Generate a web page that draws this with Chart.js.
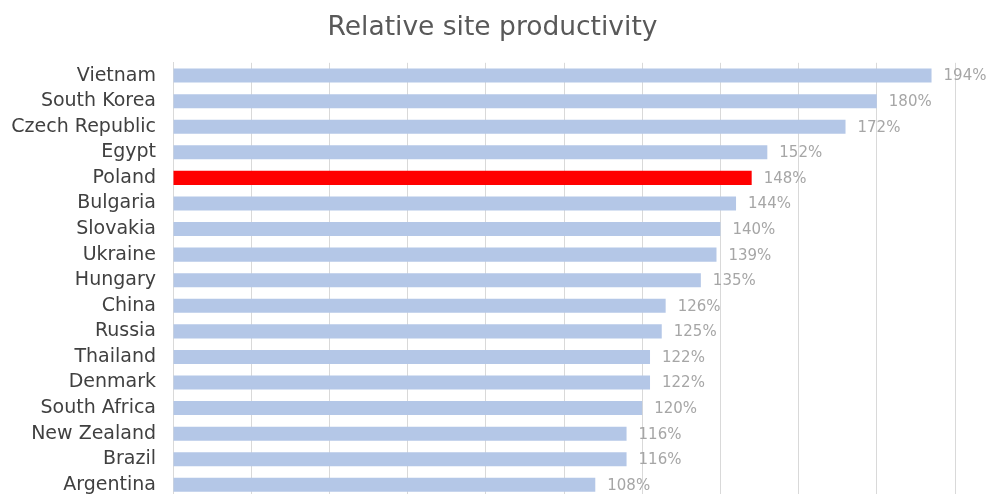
<!DOCTYPE html>
<html>
<head>
<meta charset="utf-8">
<script src="https://cdn.jsdelivr.net/npm/chart.js@4/dist/chart.umd.min.js"></script>
<style>
html,body{margin:0;padding:0;background:#fff;overflow:hidden;}
#wrap{width:990px;height:526px;}
</style>
</head>
<body>
<div id="wrap"><canvas id="c" width="990" height="526"></canvas></div>
<script>
const countries = ["Vietnam","South Korea","Czech Republic","Egypt","Poland","Bulgaria","Slovakia","Ukraine","Hungary","China","Russia","Thailand","Denmark","South Africa","New Zealand","Brazil","Argentina"];
const productivity = [194,180,172,152,148,144,140,139,135,126,125,122,122,120,116,116,108];
const highlight = "Poland";
const chartTitle = "Relative site productivity";

const barColors = countries.map(c => c === highlight ? "#ff0000" : "#b4c7e7");

const valueLabels = {
  id: "valueLabels",
  afterLayout(chart) {
    const t = chart.titleBlock;
    if (t) { t.left += 15; t.right += 15; }
  },
  afterDatasetsDraw(chart) {
    const ctx = chart.ctx;
    const meta = chart.getDatasetMeta(0);
    ctx.save();
    ctx.font = "15px 'DejaVu Sans'";
    ctx.fillStyle = "#a6a6a6";
    ctx.textBaseline = "middle";
    ctx.textAlign = "left";
    meta.data.forEach((el, i) => {
      ctx.fillText(productivity[i] + "%", el.x + 12, el.y + 1);
    });
    ctx.restore();
  }
};

new Chart(document.getElementById("c"), {
  type: "bar",
  data: {
    labels: countries,
    datasets: [{
      data: productivity,
      backgroundColor: barColors,
      categoryPercentage: 1,
      barPercentage: 0.55
    }]
  },
  options: {
    indexAxis: "y",
    responsive: false,
    animation: false,
    layout: { padding: { left: 0, right: 35, top: 0, bottom: 0 } },
    plugins: {
      legend: { display: false },
      tooltip: { enabled: false },
      title: {
        display: true,
        text: chartTitle,
        color: "#595959",
        font: { family: "'DejaVu Sans'", size: 26.5, weight: "normal" },
        padding: { top: 12, bottom: 19 }
      }
    },
    scales: {
      x: {
        min: 0, max: 200,
        ticks: { display: false, stepSize: 20 },
        grid: { color: "#d9d9d9", drawTicks: false },
        border: { display: false },
        afterFit(s) { s.height = 0; }
      },
      y: {
        ticks: {
          color: "#404040",
          font: { family: "'DejaVu Sans'", size: 19 },
          padding: 17,
          autoSkip: false
        },
        grid: { display: false, drawTicks: false },
        border: { display: true, color: "#d9d9d9", width: 1 },
        afterFit(s) { s.width = 173; }
      }
    }
  },
  plugins: [valueLabels]
});
</script>
</body>
</html>
